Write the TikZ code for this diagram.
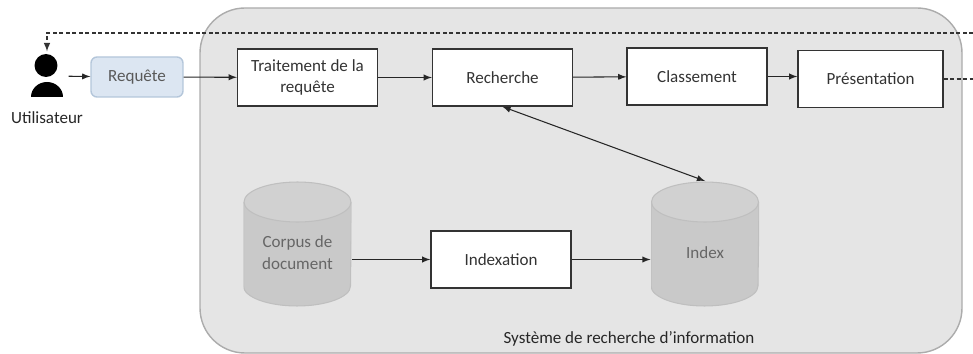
\documentclass[tikz,border=0pt]{standalone}
\usepackage{fontspec}
\setmainfont{Carlito}
\usetikzlibrary{arrows}

\definecolor{reqfill}{HTML}{DCE6F2}
\definecolor{reqborder}{HTML}{B4C6DA}

% text of a store, set lower in the body of the cylinder
\newcommand{\storetext}[1]{\raisebox{-0.2cm}[\height][\depth]{\begin{tabular}{@{}c@{}}#1\end{tabular}}}

\begin{document}
\begin{tikzpicture}[> = latex, x = 0.02cm, y = -0.02cm, line width = 0.6pt,
	font = \fontsize{9.7}{12.4}\selectfont,
	box/.style = {draw = black!80, line width = 0.8pt, fill = white, text = black!80, align = center, minimum width = 2.8cm, minimum height = 1.14cm, inner sep = 0pt},
	query/.style = {draw = reqborder, line width = 0.8pt, fill = reqfill, rounded corners = 0.12cm, text = black!65, minimum width = 1.84cm, minimum height = 0.8cm},
	store/.style = {minimum width = 2.16cm, minimum height = 2.5cm, inner sep = 0pt, text = black!60,
		path picture = {
			\filldraw [fill = gray!42, draw = gray!50] ([yshift = -0.41cm] path picture bounding box.north west) -- ([yshift = 0.41cm] path picture bounding box.south west)
				arc [start angle = 180, end angle = 360, x radius = 1.07cm, y radius = 0.4cm] -- ([yshift = -0.41cm] path picture bounding box.north east);
			\filldraw [fill = gray!36, draw = gray!50] ([yshift = -0.41cm] path picture bounding box.north) ellipse [x radius = 1.07cm, y radius = 0.4cm];
		}},
	fb/.style = {dash pattern = on 0.08cm off 0.05cm, black!80, line width = 0.7pt}]

	% Frame

	\useasboundingbox (0, 0) rectangle (973, 354);
	\draw [fill = gray!20, draw = gray!65, line width = 0.8pt, rounded corners = 0.9cm] (200, 8) rectangle (962, 353);
	\node [text = black!85] (sri) at (629, 339) {Système de recherche d'information};

	% User

	\fill [black] (46, 65.5) circle [radius = 0.23cm];
	\fill [black] (31, 97) arc [start angle = 180, end angle = 0, x radius = 0.32cm, y radius = 0.3cm] -- cycle;
	\node [minimum width = 0.84cm, minimum height = 0.96cm, inner sep = 0pt] (user) at (47, 76) {};
	\node [text = black!85] (userlbl) at (47, 118) {Utilisateur};

	% Steps

	\node [query] (req) at (137, 77) {Requête};
	\node [box] (trait) at (307.5, 77.5) {Traitement de la\\requête};
	\node [box] (rech) at (502.5, 77.5) {Recherche};
	\node [box] (class) at (697, 76.5) {Classement};
	\node [box, minimum width = 2.9cm] (pres) at (870.5, 79) {Présentation};
	\node [box] (idx) at (501, 259.5) {Indexation};

	% Stores

	\node [store] (corpus) at (297.5, 244) {\storetext{Corpus de\\document}};
	\node [store] (index) at (705, 244) {\storetext{Index}};

	% Connectors

	\draw [->, black!85] (user) -- (req);
	\foreach \a/\b in {req/trait, trait/rech, rech/class}
	{
		\draw [->, black!85] (\a) -- (\b);
	}
	\draw [->, black!85] (class.east) -- (class.east -| pres.west);
	\draw [<->, black!85] (rech.south) -- (index.north);
	\draw [->, black!85] (corpus.east |- idx.west) -- (idx.west);
	\draw [->, black!85] (idx.east) -- (index.west |- idx.east);

	% Feedback

	\coordinate (fbin) at (973, 79);
	\coordinate (fbout) at (973, 33);
	\draw [fb] (pres.east) -- (fbin);
	\draw [fb, ->] (fbout) -- (user.north |- fbout) -- (user.north);

\end{tikzpicture}
\end{document}
